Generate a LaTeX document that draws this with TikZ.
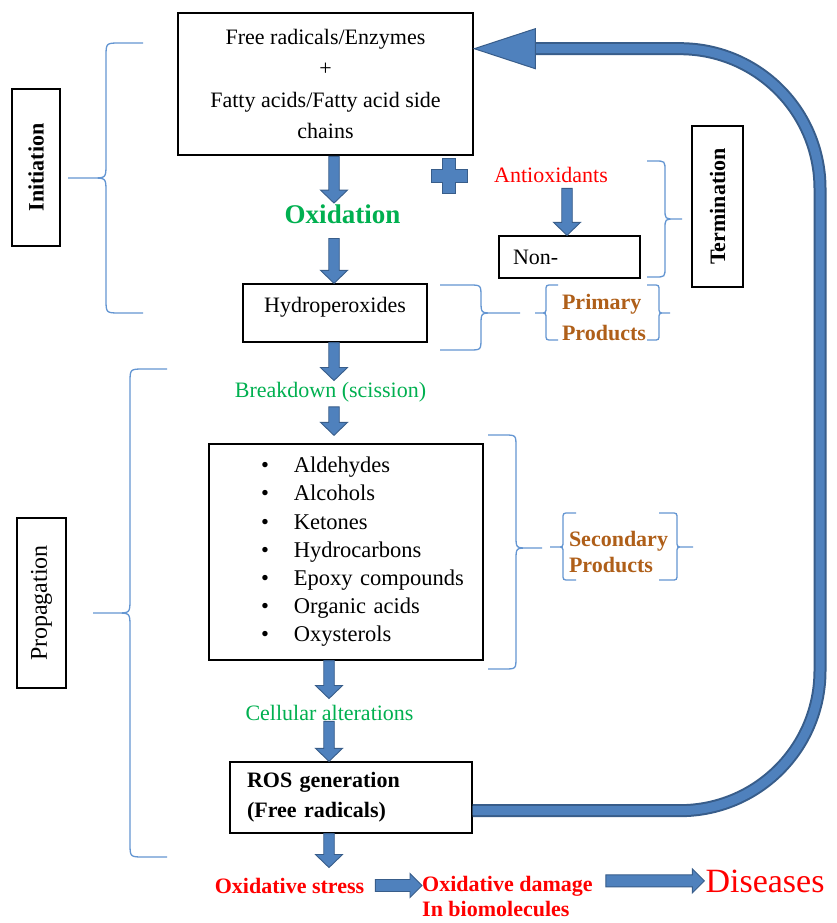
\documentclass[tikz,border=0pt]{standalone}
\usepackage{fontspec}
\setmainfont{Liberation Serif}
\usetikzlibrary{calc}
\definecolor{bfill}{RGB}{79,129,189}
\definecolor{bdark}{RGB}{56,93,138}
\definecolor{brcol}{RGB}{100,150,210}
\definecolor{ogreen}{RGB}{0,176,80}
\definecolor{pbrown}{RGB}{175,95,25}
\newcommand\mybrace[8]{\draw[brc] (#1,#4) -- ({#2+(#8)*#7},#4) .. controls (#2,#4) .. (#2,{#4+#7}) -- (#2,{#5-#7}) .. controls (#2,#5) .. ({#2-(#8)*#7},#5) -- (#3,#5) -- ({#2-(#8)*#7},#5) .. controls (#2,#5) .. (#2,{#5+#7}) -- (#2,{#6-#7}) .. controls (#2,#6) .. ({#2+(#8)*#7},#6) -- (#1,#6);}
\begin{document}
\begin{tikzpicture}[x=1pt,y=-1pt,
  box/.style={draw=black, line width=1.3pt, inner sep=0pt},
  thickbox/.style={draw=black, line width=2.6pt, inner sep=0pt},
  lbl/.style={inner sep=1pt},
  t22/.style={font=\fontsize{22}{26}\selectfont},
  brc/.style={draw=brcol, line width=1.3pt},
  blkdn/.style={fill=bfill, draw=bdark, line width=0.9pt, to path={let \p1=(\tikztostart), \p2=(\tikztotarget) in (\x1-5.25pt,\y1) -- (\x1+5.25pt,\y1) -- (\x1+5.25pt,\y2+13pt) -- (\x1+13.5pt,\y2+13pt) -- (\x1,\y2) -- (\x1-13.5pt,\y2+13pt) -- (\x1-5.25pt,\y2+13pt) -- cycle}},
  blkrt/.style={fill=bfill, draw=bdark, line width=0.9pt, to path={let \p1=(\tikztostart), \p2=(\tikztotarget) in (\x1,\y1+6pt) -- (\x2-12pt,\y1+6pt) -- (\x2-12pt,\y1+12pt) -- (\x2,\y1) -- (\x2-12pt,\y1-12pt) -- (\x2-12pt,\y1-6pt) -- (\x1,\y1-6pt) -- cycle}}
]
\fill[white] (0,0) rectangle (836,923);
\useasboundingbox (0,0) rectangle (836,923);

% boxes and labels
\node[thickbox, minimum width=295pt, minimum height=142pt, align=center, font=\fontsize{22}{31.3}\selectfont] (top) at (325.5,84) {Free radicals/Enzymes\\+\\Fatty acids/Fatty acid side\\chains};
\node[thickbox, rotate=90, minimum width=157pt, minimum height=48pt, font=\fontsize{22}{26}\selectfont\bfseries] (init) at (36,167.5) {Initiation};
\node[lbl, anchor=base, text=ogreen, font=\fontsize{27}{30}\selectfont\bfseries] (oxid) at (342.5,223) {Oxidation};
\node[box, minimum width=184pt, minimum height=58pt, text height=15pt, text depth=16pt, t22] (hydro) at (335,313) {Hydroperoxides};
\node[lbl, anchor=base, text=red, t22] (anti) at (551,182) {Antioxidants};
\node[box, minimum height=42pt, text width=113pt, inner xsep=14pt, align=left, t22] (nonbox) at (569.5,257) {Non-};
\node[box, rotate=90, minimum width=161pt, minimum height=51pt, font=\fontsize{22}{26}\selectfont\bfseries] (term) at (717.5,206.5) {Termination};
\node[lbl, align=left, text=pbrown, font=\fontsize{22}{31}\selectfont\bfseries] (prim) at (604,317) {Primary\\Products};
\node[lbl, anchor=base, text=ogreen, t22] (brk) at (330.5,397) {Breakdown (scission)};
\node[box, minimum height=216pt, text width=170pt, inner xsep=52pt, align=left, font=\fontsize{22.5}{28.2}\selectfont] (list) at (346,552) {\mbox{\makebox[33pt][l]{\textbullet}Aldehydes}\\\mbox{\makebox[33pt][l]{\textbullet}Alcohols}\\\mbox{\makebox[33pt][l]{\textbullet}Ketones}\\\mbox{\makebox[33pt][l]{\textbullet}Hydrocarbons}\\\mbox{\makebox[33pt][l]{\textbullet}Epoxy compounds}\\\mbox{\makebox[33pt][l]{\textbullet}Organic acids}\\\mbox{\makebox[33pt][l]{\textbullet}Oxysterols}};
\node[lbl, align=left, text=pbrown, font=\fontsize{22}{25.5}\selectfont\bfseries] (sec) at (618.5,552) {Secondary\\Products};
\node[box, rotate=90, minimum width=170pt, minimum height=49pt, font=\fontsize{24}{28}\selectfont] (prop) at (41.5,603) {Propagation};
\node[lbl, anchor=base, text=ogreen, t22] (cell) at (329.5,720) {Cellular alterations};
\node[box, minimum height=71pt, text width=208pt, inner xsep=17pt, align=left, font=\fontsize{22}{30}\selectfont\bfseries] (ros) at (351,797.5) {ROS generation\\(Free radicals)};
\node[lbl, anchor=base, text=red, font=\fontsize{22}{26}\selectfont\bfseries] (ostress) at (289.5,893) {Oxidative stress};
\node[inner sep=0pt, anchor=north west, align=left, text=red, font=\fontsize{22}{25.5}\selectfont\bfseries] (odamage) at (422,876) {Oxidative damage\\In biomolecules};
\node[lbl, anchor=base, text=red, font=\fontsize{34}{38}\selectfont] (dis) at (765,892) {Diseases};

% braces
\mybrace{143}{106}{68}{43}{178}{313}{14}{1}
\mybrace{167}{130}{93}{369}{613}{857}{14}{1}
\mybrace{647}{665}{682}{161}{219}{277}{10}{-1}
\mybrace{440}{481}{520}{285}{313}{350}{12}{-1}
\mybrace{558}{546}{535}{285}{313}{340}{6}{1}
\mybrace{647}{659}{670}{285}{313}{340}{6}{-1}
\mybrace{488}{516}{542}{435}{548}{669}{12}{-1}
\mybrace{576}{563}{550}{513}{547}{580}{6}{1}
\mybrace{659}{677}{693}{513}{547}{580}{6}{-1}

% plus sign
\filldraw[fill=bfill, draw=bdark, line width=0.9pt] (442.5,158) -- (455.5,158) -- (455.5,169) -- (467,169) -- (467,182) -- (455.5,182) -- (455.5,193) -- (442.5,193) -- (442.5,182) -- (431,182) -- (431,169) -- (442.5,169) -- cycle;

% block arrows
\coordinate (cxa) at (334,0);
\coordinate (cxb) at (329,0);
\coordinate (cxc) at (567,0);
\draw[blkdn] (top.south -| cxa) to (oxid.north -| cxa);
\draw[blkdn] ($(oxid.south -| cxa)+(0,14)$) to (hydro.north -| cxa);
\draw[blkdn] (hydro.south -| cxa) to (brk.north -| cxa);
\draw[blkdn] ($(brk.south -| cxa)+(0,4)$) to ($(list.north -| cxa)+(0,-8)$);
\draw[blkdn] (list.south -| cxb) to ($(cell.north -| cxb)+(0,-5)$);
\draw[blkdn] (cell.south -| cxb) to (ros.north -| cxb);
\draw[blkdn] (ros.south -| cxb) to ($(ostress.north -| cxb)+(0,-9)$);
\draw[blkdn] ($(anti.south -| cxc)+(0,5)$) to (nonbox.north -| cxc);
\draw[blkrt] ($(ostress.east)+(10,0)$) to (odamage.west |- ostress.east);
\draw[blkrt] ($(odamage.east |- dis.west)+(13,0)$) to (dis.west);

% feedback loop
\coordinate (ls) at ([yshift=23pt]ros.south east);
\coordinate (tip) at ([yshift=-37pt]top.north east);
\coordinate (rx) at (820,0);
\coordinate (hb) at ($(tip)+(61,0)$);
\draw[bdark, line width=13pt, rounded corners=140pt] (ls) -- (ls -| rx) -- (rx |- hb) -- (hb);
\draw[bfill, line width=9pt, rounded corners=140pt] (ls) -- (ls -| rx) -- (rx |- hb) -- (hb);
\filldraw[fill=bfill, draw=bdark, line width=1pt] ($(tip)+(61,-20)$) -- (tip) -- ($(tip)+(61,20)$) -- cycle;
\end{tikzpicture}
\end{document}
